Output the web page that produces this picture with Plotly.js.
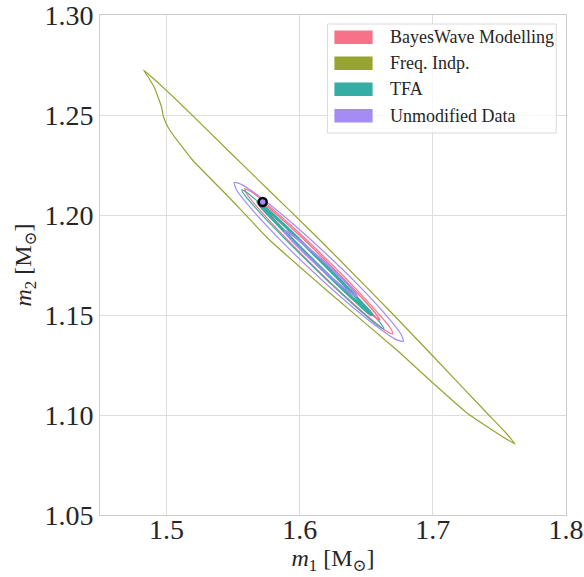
<!DOCTYPE html>
<html>
<head>
<meta charset="utf-8">
<script src="https://cdn.plot.ly/plotly-3.0.1.min.js"></script>
<style>html,body{margin:0;padding:0;background:#fff;}#plot{width:584px;height:577px;}</style>
</head>
<body>
<div id="plot"></div>
<script>
// Legend labels and colours
const seriesNames = ["BayesWave Modelling", "Freq. Indp.", "TFA", "Unmodified Data"];
const seriesColors = ["#f77189", "#97a431", "#36ada4", "#a48cf4"];

// Freq. Indp. contour (m1, m2)
const freqX = [1.4827,1.4947,1.5075,1.5474,1.5774,1.6075,1.6301,1.6677,1.7000,1.7391,1.7556,1.7594,1.7617,1.7600,1.7526,1.7256,1.7000,1.6729,1.6226,1.5774,1.5474,1.5195,1.5023,1.4977,1.4962,1.4910,1.4857,1.4827];
const freqY = [1.2725,1.2655,1.2575,1.2315,1.2120,1.1925,1.1775,1.1520,1.1295,1.1020,1.0905,1.0875,1.0855,1.0862,1.0890,1.1010,1.1160,1.1325,1.1610,1.1875,1.2085,1.2275,1.2425,1.2490,1.2540,1.2635,1.2695,1.2725];

// Unmodified Data contours
const unmodOuterX = [1.6778,1.6760,1.6632,1.6414,1.6200,1.5979,1.5734,1.5565,1.5508,1.5526,1.5654,1.5872,1.6086,1.6307,1.6552,1.6721,1.6778];
const unmodOuterY = [1.1368,1.1405,1.1512,1.1667,1.1805,1.1939,1.2074,1.2152,1.2163,1.2125,1.2018,1.1863,1.1725,1.1591,1.1456,1.1378,1.1368];
const unmodInnerX = [1.6429,1.6419,1.6362,1.6267,1.6176,1.6082,1.5979,1.5910,1.5887,1.5898,1.5954,1.6049,1.6140,1.6234,1.6337,1.6406,1.6429];
const unmodInnerY = [1.1595,1.1609,1.1652,1.1714,1.1771,1.1825,1.1882,1.1915,1.1920,1.1906,1.1863,1.1801,1.1744,1.1690,1.1633,1.1600,1.1595];

// BayesWave Modelling contours
const bwOuterX = [1.6699,1.6679,1.6562,1.6368,1.6180,1.5987,1.5776,1.5633,1.5587,1.5607,1.5724,1.5918,1.6106,1.6299,1.6510,1.6653,1.6699];
const bwOuterY = [1.1406,1.1436,1.1529,1.1668,1.1793,1.1916,1.2042,1.2117,1.2131,1.2100,1.2007,1.1869,1.1743,1.1620,1.1494,1.1419,1.1406];
const bwInnerX = [1.6602,1.6582,1.6487,1.6330,1.6179,1.6026,1.5859,1.5748,1.5714,1.5734,1.5829,1.5986,1.6137,1.6290,1.6457,1.6568,1.6602];
const bwInnerY = [1.1475,1.1497,1.1571,1.1681,1.1782,1.1881,1.1984,1.2047,1.2060,1.2038,1.1964,1.1854,1.1753,1.1654,1.1551,1.1488,1.1475];

// TFA contours
const tfaOuterX = [1.6632,1.6609,1.6494,1.6305,1.6124,1.5940,1.5739,1.5605,1.5564,1.5587,1.5702,1.5891,1.6072,1.6256,1.6457,1.6591,1.6632];
const tfaOuterY = [1.1431,1.1457,1.1545,1.1676,1.1796,1.1914,1.2036,1.2111,1.2126,1.2099,1.2011,1.1880,1.1760,1.1642,1.1520,1.1445,1.1431];
const tfaInnerX = [1.6542,1.6520,1.6425,1.6272,1.6126,1.5979,1.5819,1.5715,1.5684,1.5706,1.5801,1.5954,1.6100,1.6247,1.6407,1.6511,1.6542];
const tfaInnerY = [1.1500,1.1520,1.1589,1.1694,1.1791,1.1888,1.1989,1.2051,1.2065,1.2045,1.1976,1.1871,1.1774,1.1678,1.1577,1.1514,1.1500];

// Injected point
const injX = [1.5722];
const injY = [1.2065];

const xTicks = [1.5, 1.6, 1.7, 1.8];
const xTickText = ["1.5", "1.6", "1.7", "1.8"];
const yTicks = [1.05, 1.10, 1.15, 1.20, 1.25, 1.30];
const yTickText = ["1.05", "1.10", "1.15", "1.20", "1.25", "1.30"];

function contour(x, y, color, width, smooth) {
  return {type: "scatter", mode: "lines", x: x, y: y, showlegend: false, hoverinfo: "skip",
          line: {color: color, width: width, shape: "spline", smoothing: smooth}};
}

const traces = [
  contour(freqX, freqY, seriesColors[1], 1.2, 0.4),
  contour(unmodOuterX, unmodOuterY, seriesColors[3], 1.2, 0.6),
  contour(bwOuterX, bwOuterY, seriesColors[0], 1.2, 0.6),
  contour(tfaOuterX, tfaOuterY, seriesColors[2], 1.2, 0.6),
  contour(bwInnerX, bwInnerY, seriesColors[0], 1.5, 0.6),
  contour(tfaInnerX, tfaInnerY, seriesColors[2], 3, 0.6),
  contour(unmodInnerX, unmodInnerY, seriesColors[3], 2, 0.6),
  {type: "scatter", mode: "markers", x: injX, y: injY, showlegend: false,
   marker: {color: seriesColors[3], size: 8, line: {color: "#000", width: 2.5}}}
];

const font = "'Liberation Serif', 'DejaVu Serif', serif";

// Manual legend (patch style)
const shapes = [{type: "rect", xref: "paper", yref: "paper", x0: 0.488, x1: 0.979, y0: 0.764, y1: 0.982,
                 fillcolor: "rgba(255,255,255,0.8)", line: {color: "#d9d9d9", width: 1}, layer: "above"}];
const annotations = [];
const rowY = [0.9554, 0.9034, 0.8514, 0.7986];
seriesNames.forEach((n, i) => {
  shapes.push({type: "rect", xref: "paper", yref: "paper", x0: 0.503, x1: 0.585, y0: rowY[i] - 0.0135, y1: rowY[i] + 0.0135,
               fillcolor: seriesColors[i], line: {width: 0}, layer: "above"});
  annotations.push({xref: "paper", yref: "paper", x: 0.617, y: rowY[i], xanchor: "left", yanchor: "middle",
                    text: n, showarrow: false, font: {family: font, size: 18, color: "#262626"}});
});

const layout = {
  width: 584, height: 577,
  margin: {l: 100, r: 18, t: 15, b: 62},
  paper_bgcolor: "#fff", plot_bgcolor: "#fff",
  showlegend: false,
  xaxis: {range: [1.45, 1.8], tickvals: xTicks, ticktext: xTickText, showgrid: true, gridcolor: "#dddddd", gridwidth: 1,
          zeroline: false, showline: true, mirror: true, linecolor: "#cccccc", linewidth: 1, ticks: "",
          automargin: false, ticklabeloverflow: "allow", ticklabelstandoff: -11,
          tickfont: {family: font, size: 28, color: "#262626"},
          title: {text: "<i>m</i><sub>1</sub> [M<sub>⊙</sub>]", font: {family: font, size: 24, color: "#262626"}, standoff: 0}},
  yaxis: {range: [1.05, 1.30], tickvals: yTicks, ticktext: yTickText, showgrid: true, gridcolor: "#dddddd", gridwidth: 1,
          zeroline: false, showline: true, mirror: true, linecolor: "#cccccc", linewidth: 1, ticks: "",
          automargin: false, ticklabeloverflow: "allow",
          tickfont: {family: font, size: 28, color: "#262626"},
          title: {text: "<i>m</i><sub>2</sub> [M<sub>⊙</sub>]", font: {family: font, size: 24, color: "#262626"}, standoff: 6}},
  shapes: shapes,
  annotations: annotations
};

Plotly.newPlot("plot", traces, layout, {displayModeBar: false, staticPlot: true});
</script>
</body>
</html>
